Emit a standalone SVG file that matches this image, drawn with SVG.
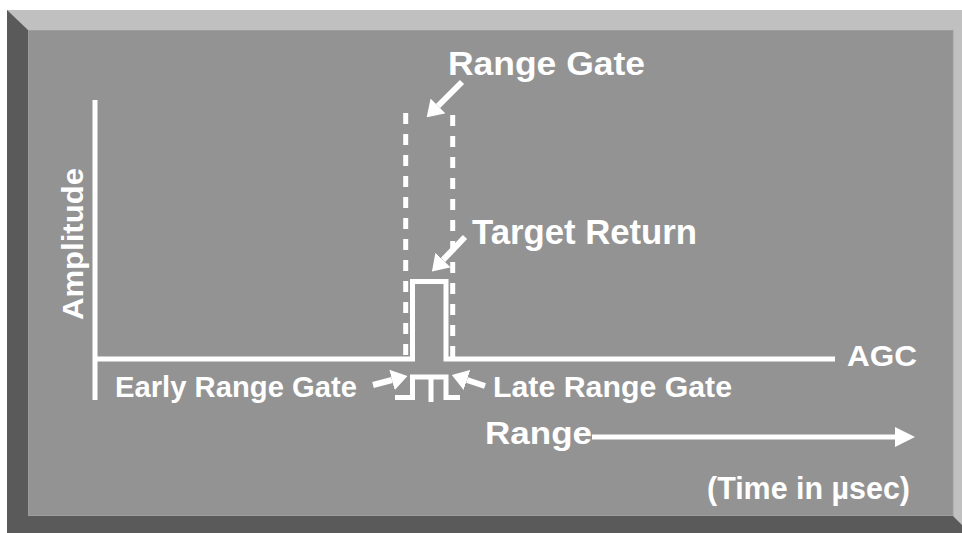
<svg xmlns="http://www.w3.org/2000/svg" width="962" height="533" viewBox="0 0 962 533">
<style>
.lbl{font-family:"Liberation Sans",Arial,sans-serif;font-weight:bold;fill:#ffffff}
.wl{fill:none;stroke:#ffffff;stroke-width:5}
.arr{fill:none;stroke:#ffffff;stroke-width:6}
</style>
<defs>
<marker id="ah" markerUnits="userSpaceOnUse" markerWidth="16" markerHeight="21" refX="0" refY="10.5" orient="auto">
<path d="M0,0 L16,10.5 L0,21 z" fill="#ffffff"/>
</marker>
<marker id="ahBig" markerUnits="userSpaceOnUse" markerWidth="20" markerHeight="20" refX="0" refY="10" orient="auto">
<path d="M0,0 L20,10 L0,20 z" fill="#ffffff"/>
</marker>
</defs>
<g id="frame">
<rect x="0" y="0" width="962" height="533" fill="#ffffff"/>
<rect x="7" y="10" width="955" height="523" fill="#c0c0c0"/>
<polygon points="7,10 28,30 28,516 953,516 962,525 962,533 7,533" fill="#5a5a5a"/>
<rect x="28.5" y="30.5" width="924.5" height="485" fill="#939393" stroke="#9d9d9d" stroke-width="1"/>
</g>
<g id="axes">
<line class="wl" x1="95" y1="100" x2="95" y2="400"/>
<polyline class="wl" points="97,359 412.5,359 412.5,281.5 446,281.5 446,359 835,359"/>
</g>
<g id="range-gate-lines">
<line x1="405.7" y1="113" x2="405.7" y2="357" stroke="#ffffff" stroke-width="5" stroke-dasharray="11 10"/>
<line x1="452.7" y1="115" x2="452.7" y2="357" stroke="#ffffff" stroke-width="5" stroke-dasharray="11 10"/>
</g>
<g id="split-gate">
<polyline class="wl" points="395,397.5 412.5,397.5 412.5,377 446,377 446,397.5 460,397.5"/>
<line class="wl" x1="431" y1="377" x2="431" y2="402"/>
</g>
<g id="connectors">
<line class="arr" x1="462" y1="82" x2="438" y2="106" marker-end="url(#ah)"/>
<line class="arr" x1="465" y1="237" x2="443" y2="260" marker-end="url(#ah)"/>
<line class="arr" x1="373" y1="385" x2="392" y2="380" marker-end="url(#ah)"/>
<line class="arr" x1="485" y1="386" x2="467" y2="380" marker-end="url(#ah)"/>
<line x1="592" y1="437" x2="895" y2="437" stroke="#ffffff" stroke-width="5" marker-end="url(#ahBig)"/>
</g>
<g id="label-range-gate"><text class="lbl" x="448" y="75" font-size="34" textLength="197" lengthAdjust="spacingAndGlyphs">Range Gate</text></g>
<g id="label-target-return"><text class="lbl" x="472" y="244" font-size="35" textLength="225" lengthAdjust="spacingAndGlyphs">Target Return</text></g>
<g id="label-amplitude"><text class="lbl" x="0" y="0" font-size="30" text-anchor="middle" textLength="152" lengthAdjust="spacingAndGlyphs" transform="translate(83,244) rotate(-90)">Amplitude</text></g>
<g id="label-early"><text class="lbl" x="115" y="397" font-size="30" textLength="242" lengthAdjust="spacingAndGlyphs">Early Range Gate</text></g>
<g id="label-late"><text class="lbl" x="493" y="397" font-size="30" textLength="239" lengthAdjust="spacingAndGlyphs">Late Range Gate</text></g>
<g id="label-agc"><text class="lbl" x="847" y="366" font-size="30" textLength="70" lengthAdjust="spacingAndGlyphs">AGC</text></g>
<g id="label-range"><text class="lbl" x="485" y="444" font-size="31" textLength="107" lengthAdjust="spacingAndGlyphs">Range</text></g>
<g id="label-time"><text class="lbl" x="707" y="499" font-size="31" textLength="203" lengthAdjust="spacingAndGlyphs">(Time in µsec)</text></g>
</svg>
